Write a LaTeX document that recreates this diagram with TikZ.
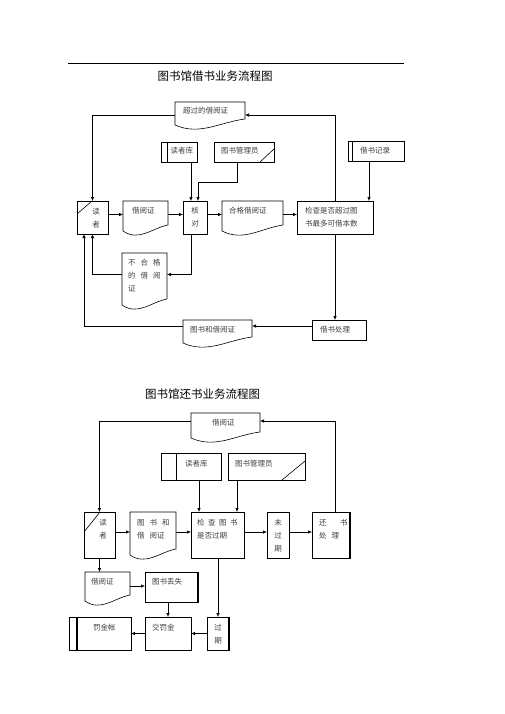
\documentclass[tikz,border=0pt]{standalone}
\usepackage{fontspec}
\newfontfamily\cjk{Noto Sans CJK SC}
\usetikzlibrary{arrows.meta,calc,fit}
\newcommand\sgap{\hspace{5pt}}
\newcommand\mkshape[5]{\node[shp, fit={(#2,#3) (#4,#5)}] (#1) {};}
\newcommand\drawbox[1]{\draw[ln] (#1.north west) rectangle (#1.south east);}
\newcommand\drawdoc[1]{\draw[ln] ([yshift=3pt]#1.south west) -- (#1.north west) -- (#1.north east) -- ([yshift=9pt]#1.south east) .. controls ($(#1.south west)!0.65!(#1.south east)+(0,-6)$) and ($(#1.south west)!0.35!(#1.south east)+(0,8)$) .. ([yshift=3pt]#1.south west) -- cycle;}
\tikzset{
  ln/.style={line width=0.6pt, draw=black},
  thk/.style={line width=1.4pt, draw=black},
  arr/.style={ln, -{Latex[length=4pt,width=3.4pt]}},
  shp/.style={inner sep=0pt, outer sep=0pt},
  txt/.style={font=\cjk\fontsize{7.5}{13}\selectfont, text=black!75, inner sep=0pt, align=left, anchor=north west},
  ctxt/.style={txt, align=center, anchor=north},
  ttl/.style={font=\cjk\fontsize{11.5}{13}\selectfont, inner sep=0pt},
}
\begin{document}
\begin{tikzpicture}[x=1pt, y=-1pt]
\useasboundingbox (0,0) rectangle (505,714);
\fill[white] (0,0) rectangle (505,714);
\draw[ln] (68,63) -- (404,63);
\node[ttl] (title1) at (215,76) {图书馆借书业务流程图};

% ---------- diagram 1 shapes ----------
\mkshape{od}{175}{102}{245}{128}
\mkshape{rla}{161}{142}{197}{162}
\mkshape{liba}{214}{142}{274}{162}
\mkshape{rec}{348}{141}{404}{161}
\mkshape{rda}{77}{201}{108}{234}
\mkshape{carda}{123}{201}{168}{234}
\mkshape{hd}{183}{201}{207}{234}
\mkshape{ok}{222}{201}{283}{234}
\mkshape{chk}{297}{201}{373}{234}
\mkshape{bad}{122}{253}{167}{308}
\mkshape{proc}{312}{320}{366}{340}
\mkshape{bk}{183}{320}{252}{346}

\drawdoc{od}
\drawbox{rla}
\draw[ln] (167,142) -- (167,162);
\drawbox{liba}
\draw[ln] (260,162) -- (274,149);
\drawbox{rec}
\draw[ln] (352,141) -- (352,161);
\drawbox{rda}
\draw[ln] (77,214) -- (92,201);
\drawdoc{carda}
\drawbox{hd}
\drawdoc{ok}
\drawbox{chk}
\drawdoc{bad}
\drawbox{proc}
\drawdoc{bk}

\node[txt] (t1) at (183,107.2) {超过的借阅证};
\node[txt] (t2) at (170.5,147.2) {读者库};
\node[txt] (t3) at (221,147.2) {图书管理员};
\node[txt] (t4) at (360,147.2) {借书记录};
\node[ctxt] (t5) at (96,207.5) {读\\者};
\node[txt] (t6) at (132,207.2) {借阅证};
\node[ctxt] (t7) at (195,207.2) {核\\对};
\node[txt] (t8) at (229,207.2) {合格借阅证};
\node[txt] (t9) at (305,207.2) {检查是否超过图\\书最多可借本数};
\node[txt] (t10) at (128,259.2) {不\sgap 合\sgap 格\\的\sgap 借\sgap 阅\\证};
\node[txt] (t11) at (320,326.2) {借书处理};
\node[txt] (t12) at (190,326.2) {图书和借阅证};

% ---------- diagram 1 connectors ----------
\draw[arr] (od.west) -| (rda.north);
\draw[arr] (chk.north) |- (od.east);
\draw[arr] ([xshift=-4pt]hd.north |- rla.south) -- ([xshift=-4pt]hd.north);
\draw[arr] ([xshift=-7pt]liba.south) -- ++(0,20) -| ([xshift=3pt]hd.north);
\draw[arr] ([xshift=-7pt]rec.south) -- ([xshift=-7pt]rec.south |- chk.north);
\draw[arr] ([yshift=3pt]rda.east) -- ([yshift=3pt]carda.west);
\draw[arr] ([yshift=3pt]carda.east) -- ([yshift=3pt]hd.west);
\draw[arr] ([yshift=3pt]hd.east) -- ([yshift=3pt]ok.west);
\draw[arr] ([yshift=3pt]ok.east) -- ([yshift=3pt]chk.west);
\draw[arr] ([xshift=-4pt]hd.south) |- ([yshift=6pt]bad.east);
\draw[arr] ([yshift=6pt]bad.west) -| (rda.south);
\draw[arr] (chk.south) -- (chk.south |- proc.north);
\draw[arr] ([yshift=4pt]proc.west) -- ([yshift=4pt]proc.west -| bk.east);
\draw[arr] ([yshift=4pt]proc.west -| bk.west) -| ([xshift=-8.5pt]rda.south);

% ---------- diagram 2 ----------
\node[ttl] (title2) at (202.5,394) {图书馆还书业务流程图};

\mkshape{cardb}{191}{413}{260}{441}
\mkshape{rlb}{161}{453}{221}{480}
\mkshape{libb}{228}{453}{305}{480}
\mkshape{rdb}{84}{512}{115}{558}
\mkshape{bkb}{130}{512}{176}{558}
\mkshape{ckb}{191}{512}{244}{558}
\mkshape{nl}{267}{512}{289}{558}
\mkshape{ret}{312}{512}{350}{558}
\mkshape{cardc}{85}{572}{130}{604}
\mkshape{lost}{145}{572}{198}{602}
\mkshape{fine}{145}{617}{191}{650}
\mkshape{late}{207}{617}{229}{650}
\mkshape{acct}{69}{617}{131}{650}

\drawdoc{cardb}
\drawbox{rlb}
\draw[ln] (176,453) -- (176,480);
\drawbox{libb}
\draw[ln] (282,480) -- (305,461);
\drawbox{rdb}
\draw[ln] (84,532) -- (100,512);
\drawdoc{bkb}
\drawbox{ckb}
\drawbox{nl}
\drawbox{ret}
\draw[thk] (ret.north east) -- (ret.south east);
\drawdoc{cardc}
\drawbox{lost}
\draw[thk] (lost.north east) -- (lost.south east);
\drawbox{fine}
\drawbox{late}
\draw[thk] (late.north east) -- (late.south east);
\drawbox{acct}
\draw[thk] (77,617) -- (77,650);

\node[txt] (u1) at (212,419.2) {借阅证};
\node[txt] (u2) at (185,460.2) {读者库};
\node[txt] (u3) at (235,460.2) {图书管理员};
\node[ctxt] (u4) at (103,519.2) {读\\者};
\node[txt] (u5) at (137,519.2) {图\sgap 书\sgap 和\\借\sgap 阅证};
\node[txt] (u6) at (197,519.2) {检\hspace{3.5pt}查\hspace{3.5pt}图\hspace{3.5pt}书\\是否过期};
\node[ctxt] (u7) at (278,519.2) {未\\过\\期};
\node[txt] (u8) at (319,519.2) {还\hspace{13.5pt}书\\处\sgap 理};
\node[txt] (u9) at (91,578.2) {借阅证};
\node[txt] (u10) at (152,578.2) {图书丢失};
\node[txt] (u11) at (152,624.2) {交罚金};
\node[ctxt] (u12) at (218,624.2) {过\\期};
\node[txt] (u13) at (93,624.2) {罚金帐};

\draw[arr] ([yshift=6pt]cardb.west) -| (rdb.north);
\draw[arr] ([xshift=4pt]ret.north) |- ([yshift=6pt]cardb.east);
\draw[arr] ([xshift=-18.5pt]ckb.north |- rlb.south) -- ([xshift=-18.5pt]ckb.north);
\draw[arr] ([xshift=19.5pt]ckb.north |- libb.south) -- ([xshift=19.5pt]ckb.north);
\draw[arr] ([yshift=3pt]rdb.east) -- ([yshift=3pt]bkb.west);
\draw[arr] ([yshift=3pt]bkb.east) -- ([yshift=3pt]ckb.west);
\draw[arr] ([yshift=3pt]ckb.east) -- ([yshift=3pt]nl.west);
\draw[arr] ([yshift=3pt]nl.east) -- ([yshift=3pt]ret.west);
\draw[arr] (rdb.south) -- (rdb.south |- cardc.north);
\draw[arr] ([yshift=2pt]cardc.east) -- ([yshift=2pt]cardc.east -| lost.west);
\draw[arr] (fine.north |- lost.south) -- (fine.north);
\draw[arr] (late.north |- ckb.south) -- (late.north);
\draw[arr] (late.west) -- (fine.east);
\draw[arr] (fine.west) -- (acct.east);
\end{tikzpicture}
\end{document}
